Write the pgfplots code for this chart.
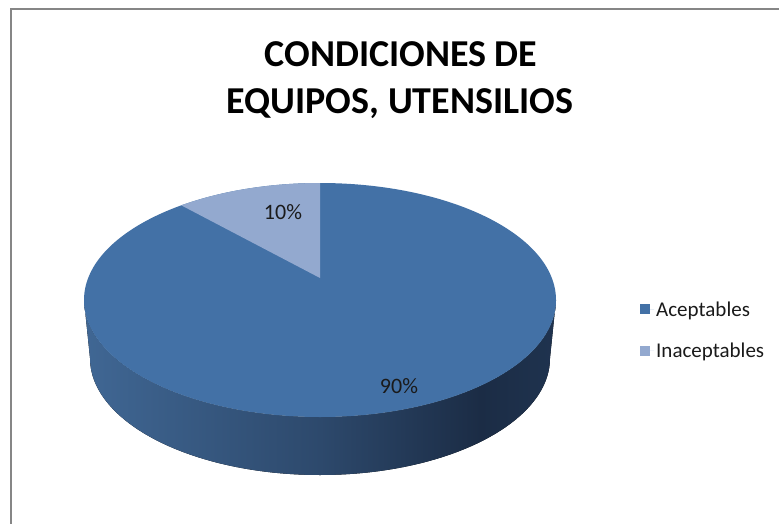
\documentclass[border=0pt]{standalone}
\usepackage{fontspec}
\setmainfont{Carlito}
\usepackage{pgfplots}
\pgfplotsset{compat=1.18}
\usepackage{pgfplotstable}

\definecolor{topblue}{RGB}{67,113,166}
\definecolor{sliceblue}{RGB}{147,169,207}
\definecolor{sideA}{RGB}{64,103,148}
\definecolor{sideB}{RGB}{45,73,108}
\definecolor{sideC}{RGB}{27,44,69}
\definecolor{sideD}{RGB}{31,51,79}
\definecolor{framegray}{RGB}{134,134,134}
\definecolor{labeltext}{RGB}{26,26,26}

% side of the pie: light on the left, darkest near the right
\pgfdeclarehorizontalshading{pieside}{100bp}{color(0bp)=(sideA); color(25bp)=(sideA);
  color(50bp)=(sideB); color(67bp)=(sideC); color(75bp)=(sideD); color(100bp)=(sideD)}

\pgfplotstableread{
categoria valor
Aceptables 90
Inaceptables 10
}\piedata

\begin{document}
\begin{tikzpicture}
\pgfplotstablegetelem{0}{valor}\of\piedata \let\vAc\pgfplotsretval
\pgfplotstablegetelem{1}{valor}\of\piedata \let\vIn\pgfplotsretval
\pgfmathsetmacro\angIn{360*\vIn/(\vAc+\vIn)}
\pgfmathtruncatemacro\pAc{round(100*\vAc/(\vAc+\vIn))}
\pgfmathtruncatemacro\pIn{round(100*\vIn/(\vAc+\vIn))}
\begin{axis}[
    name=a,
    width=779bp, height=524bp, scale only axis,
    xmin=0, xmax=779, ymin=0, ymax=524,
    y dir=reverse,
    hide axis, clip=false,
    legend style={at={(axis cs:637,330)}, anchor=west, draw=none, fill=none,
        font=\fontsize{21bp}{25bp}\selectfont, text=labeltext,
        row sep=21bp, legend cell align=left},
    legend image code/.code={\fill[#1] (0bp,-5bp) rectangle (10bp,5bp);
        \path (0bp,0bp) -- (14bp,0bp);},
]
\addlegendimage{fill=topblue, draw=none}
\addlegendentry{Aceptables}
\addlegendimage{fill=sliceblue, draw=none}
\addlegendentry{Inaceptables}

% frame of the chart area
\draw[framegray, line width=2bp] (axis cs:11,524) -- (axis cs:11,9) -- (axis cs:779,9);

% side
\fill[shading=pieside] (axis cs:84,300)
    arc[start angle=180, end angle=360, x radius=236bp, y radius=117bp]
    -- (axis cs:550,358)
    arc[start angle=360, end angle=180, x radius=230bp, y radius=117bp]
    -- cycle;
% top face
\fill[topblue] (axis cs:320,300) ellipse[x radius=236bp, y radius=117bp];
\fill[sliceblue] (axis cs:320,278) -- (axis cs:320,183)
    arc[start angle=90, end angle=90+\angIn, x radius=236bp, y radius=117bp] -- cycle;

\node[font=\fontsize{22bp}{26bp}\selectfont, text=labeltext] at (axis cs:283,212) {\pIn\%};
\node[font=\fontsize{22bp}{26bp}\selectfont, text=labeltext] at (axis cs:399,386) {\pAc\%};

\node[font=\fontsize{38bp}{46bp}\selectfont\bfseries, anchor=base] at (axis cs:401,67) {CONDICIONES DE};
\node[font=\fontsize{38bp}{46bp}\selectfont\bfseries, anchor=base] at (axis cs:400,113) {EQUIPOS, UTENSILIOS};
\end{axis}
\pgfresetboundingbox
\path (a.south west) rectangle (a.north east);
\end{tikzpicture}
\end{document}
